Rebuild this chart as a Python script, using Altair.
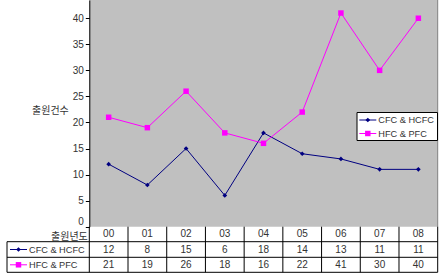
import altair as alt
import pandas as pd

years = ["00", "01", "02", "03", "04", "05", "06", "07", "08"]
cfc = [12, 8, 15, 6, 18, 14, 13, 11, 11]
hfc = [21, 19, 26, 18, 16, 22, 41, 30, 40]
series = ["CFC & HCFC", "HFC & PFC"]
colors = ["#000080", "#ff00ff"]
shapes = ["diamond", "square"]
sizes = [22, 30]
y_ticks = [0, 5, 10, 15, 20, 25, 30, 35, 40]
y_title = "출원건수"
x_title = "출원년도"

W, H = 348.4, 226.7
FONT = "Liberation Sans, Arial, Noto Sans CJK KR, sans-serif"
KFONT = "Noto Sans CJK KR, sans-serif"
TXT = "#333333"
FS = 10
LFS = 9.2

df = pd.DataFrame({"idx": list(range(len(years))), "year": years, "cfc": cfc, "hfc": hfc})
bounds = pd.DataFrame({"b": [i + 0.5 for i in range(len(years))]})

xs = alt.Scale(domain=[-0.5, len(years) - 0.5], nice=False, zero=False)
ys = alt.Scale(domain=[0, 43.5], nice=False)
X = alt.X("idx:Q", scale=xs, axis=None)

yaxis = alt.Axis(values=y_ticks, title=y_title, titleAngle=0, titleAlign="right",
                 titleBaseline="middle", titleX=-21, titleY=110, titleFont=KFONT,
                 titleFontSize=FS, titleFontWeight="normal", titleColor=TXT,
                 grid=False, domainColor="black", tickColor="black", tickSize=4,
                 labelPadding=2, labelFont=FONT, labelFontSize=FS, labelColor=TXT,
                 labelFlush=True)

base = alt.Chart(df)
layers = []
for i, col in enumerate(["cfc", "hfc"]):
    Y = alt.Y(f"{col}:Q", scale=ys, title=y_title, axis=yaxis)
    layers.append(base.mark_line(color=colors[i], strokeWidth=1).encode(x=X, y=Y))
    layers.append(base.mark_point(shape=shapes[i], filled=True, size=sizes[i],
                                  color=colors[i], opacity=1).encode(x=X, y=Y))

one = alt.Data(values=[{"a": 1}])

def hrule(y, x0, x1, color="black"):
    return alt.Chart(one).mark_rule(color=color, strokeWidth=1).encode(
        x=alt.value(x0), x2=alt.value(x1), y=alt.value(y))

def vrule(x, y0, y1, color="black"):
    return alt.Chart(one).mark_rule(color=color, strokeWidth=1).encode(
        x=alt.value(x), y=alt.value(y0), y2=alt.value(y1))

# right edge of plot area
layers.append(vrule(W, 0, H, "#808080"))

# data table
T0, T1, T2, T3 = H, 241.7, 257.3, 272.3
TL = -82.3
layers.append(alt.Chart(bounds).mark_rule(color="black", strokeWidth=1).encode(
    x=alt.X("b:Q", scale=xs, axis=None), y=alt.value(T0), y2=alt.value(T3)))
layers.append(vrule(0, T0, T3))
layers.append(vrule(TL, T1, T3))
for yy in [T1, T2, T3]:
    layers.append(hrule(yy, TL, W))

layers.append(base.mark_text(font=FONT, fontSize=FS, color=TXT, baseline="middle").encode(
    x=X, y=alt.value((T0 + T1) / 2), text="year:N"))
layers.append(alt.Chart(one).mark_text(font=KFONT, fontSize=FS, color=TXT, align="right",
                                       baseline="middle", text=x_title).encode(
    x=alt.value(-1.5), y=alt.value(236.5)))

rows = [((T1 + T2) / 2), ((T2 + T3) / 2)]
for i, col in enumerate(["cfc", "hfc"]):
    layers.append(base.mark_text(font=FONT, fontSize=FS, color=TXT, baseline="middle").encode(
        x=X, y=alt.value(rows[i]), text=f"{col}:Q"))

def sym_label(i, x0, yy):
    out = []
    out.append(alt.Chart(one).mark_rule(color=colors[i], strokeWidth=1).encode(
        x=alt.value(x0), x2=alt.value(x0 + 17), y=alt.value(yy)))
    out.append(alt.Chart(one).mark_point(shape=shapes[i], filled=True, size=sizes[i],
                                         color=colors[i], opacity=1).encode(
        x=alt.value(x0 + 8.5), y=alt.value(yy)))
    out.append(alt.Chart(one).mark_text(font=FONT, fontSize=LFS, color=TXT, align="left",
                                        baseline="middle", text=series[i]).encode(
        x=alt.value(x0 + 19), y=alt.value(yy)))
    return out

for i in range(2):
    layers += sym_label(i, -79.3, rows[i])

# legend box
layers.append(alt.Chart(one).mark_rect(fill="white", stroke="black", strokeWidth=1).encode(
    x=alt.value(267.7), x2=alt.value(348.2), y=alt.value(112.5), y2=alt.value(140.5)))
leg_y = [120, 133.5]
for i in range(2):
    layers += sym_label(i, 270, leg_y[i])

chart = alt.layer(*layers).properties(
    width=W, height=H, autosize="none",
    padding={"left": 89.3, "top": 0, "right": 9.3, "bottom": 50.3},
    background="white",
).configure_view(fill="#c0c0c0", strokeWidth=0)

chart.save("out.html", embed_options={"renderer": "svg", "actions": False})
